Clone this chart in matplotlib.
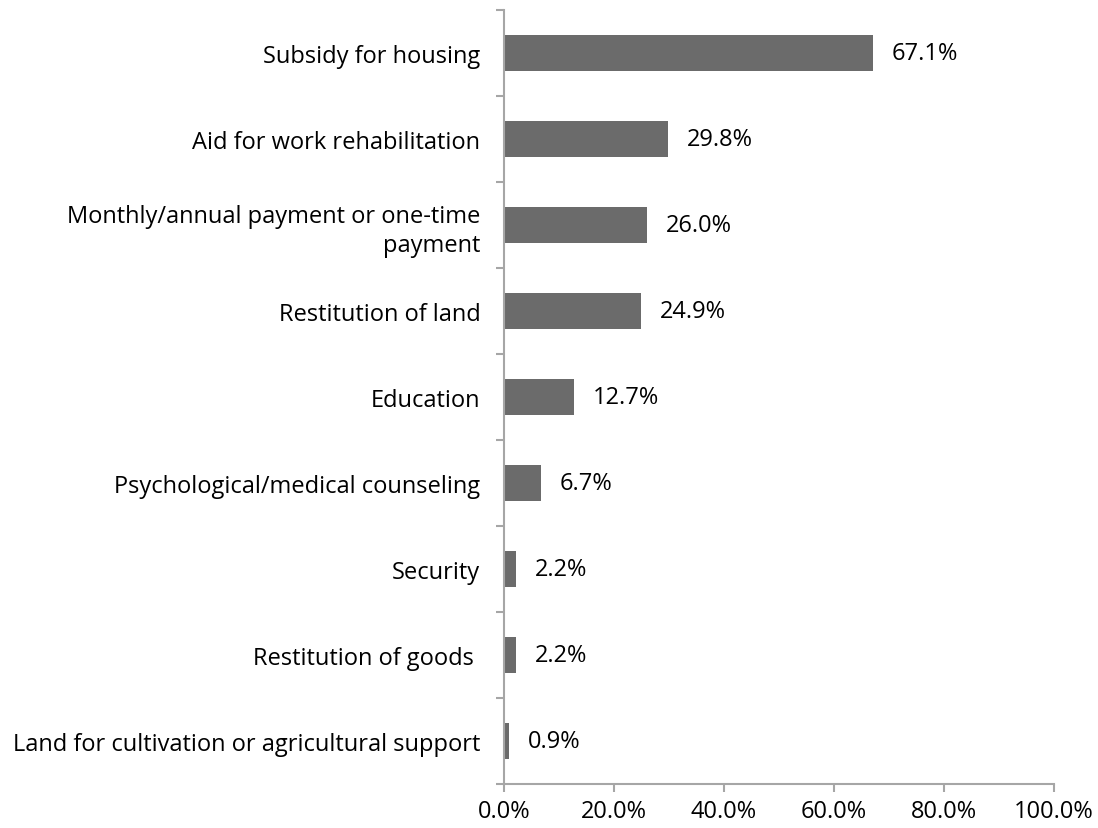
import matplotlib.pyplot as plt
import numpy as np

# Share of respondents naming each type of reparation
categories = [
    'Subsidy for housing',
    'Aid for work rehabilitation',
    'Monthly/annual payment or one-time\npayment',
    'Restitution of land',
    'Education',
    'Psychological/medical counseling',
    'Security',
    'Restitution of goods ',
    'Land for cultivation or agricultural support',
]
values = [67.1, 29.8, 26.0, 24.9, 12.7, 6.7, 2.2, 2.2, 0.9]
x_ticks = [0, 20, 40, 60, 80, 100]

plt.rcParams['font.family'] = ['Open Sans', 'DejaVu Sans']
fs = 17

fig = plt.figure(figsize=(10.98, 8.29), dpi=100)
ax = fig.add_axes([0.459, 0.0531, 0.501, 0.9336])

y = np.arange(len(categories))[::-1]
ax.barh(y, values, height=0.41, color='#6b6b6b')

# value labels to the right of each bar
for yi, v in zip(y, values):
    ax.text(v + 3.4, yi, f'{v:.1f}%', va='center', ha='left', fontsize=fs)

ax.set_xlim(0, 100)
ax.set_ylim(-0.5, len(categories) - 0.5)

ax.set_xticks(x_ticks)
ax.set_xticklabels([f'{t:.1f}%' for t in x_ticks], fontsize=fs)
ax.set_yticks(y)
ax.set_yticklabels(categories, fontsize=fs, ha='right', linespacing=1.3)
ax.set_yticks(np.arange(-0.5, len(categories)), minor=True)

ax.tick_params(axis='y', which='major', length=0, pad=17)
ax.tick_params(axis='y', which='minor', length=6, width=1.5, color='#a6a6a6')
ax.tick_params(axis='x', length=6, width=1.5, color='#a6a6a6', pad=5)

for side in ['top', 'right']:
    ax.spines[side].set_visible(False)
for side in ['left', 'bottom']:
    ax.spines[side].set_color('#a6a6a6')
    ax.spines[side].set_linewidth(1.5)

plt.savefig('out.png', dpi=100)
